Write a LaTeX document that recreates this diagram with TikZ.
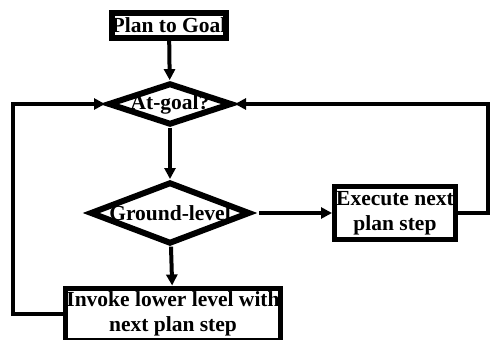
\documentclass[tikz,border=0pt]{standalone}
\usepackage{fontspec}
\setmainfont{Liberation Serif}
\usetikzlibrary{shapes.geometric,arrows.meta}
\tikzset{
  stepbox/.style={draw, line width=5pt, rectangle, inner sep=0pt, align=center,
    font=\fontsize{21.5}{25}\selectfont\bfseries},
  testbox/.style={draw, line width=6pt, diamond, inner xsep=-8pt, inner ysep=-4pt,
    font=\fontsize{21.5}{25}\selectfont\bfseries},
}
\begin{document}
\begin{tikzpicture}[x=1pt, y=-1pt, >={Triangle[length=11pt,width=11pt]}, line width=4pt]
\useasboundingbox (0,0) rectangle (491,340);

\node[stepbox, line width=6pt, minimum width=112pt, minimum height=25pt] (plan) at (169,25) {Plan to Goal};
\node[testbox, aspect=2.7, minimum width=124pt, minimum height=42pt] (atgoal) at (170,104) {At-goal?};
\node[testbox, aspect=2.5, minimum width=160pt, minimum height=62pt] (ground) at (170,213) {Ground-level};
\node[stepbox, minimum width=121pt, minimum height=53pt] (exec) at (395,213) {Execute next\\plan step};
\node[stepbox, minimum width=215pt, minimum height=52pt] (invoke) at (173,314) {Invoke lower level with\\next plan step};

\draw[->] (plan) -- (atgoal);
\draw[->] (atgoal) -- (ground);
\draw[->, shorten <=6pt] (ground) -- (exec);
\draw[->] (ground) -- (invoke);
\draw[->] (exec.east) -- ++(30,0) |- (atgoal.east);
\draw[->] (invoke.west) -- ++(-50,0) |- (atgoal.west);

\end{tikzpicture}
\end{document}
